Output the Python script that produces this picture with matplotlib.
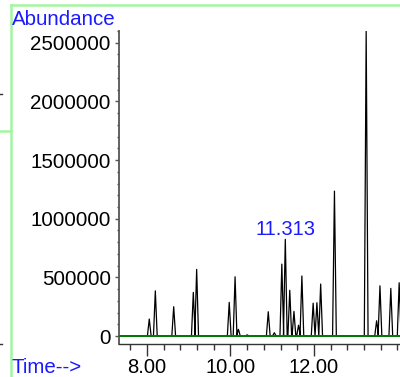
import matplotlib
matplotlib.use("Agg")
import matplotlib.pyplot as plt
from matplotlib.ticker import MultipleLocator, FixedLocator, FuncFormatter
from matplotlib.lines import Line2D

plt.rcParams["font.family"] = ["Liberation Sans", "DejaVu Sans"]

# peak retention times (min) and heights (abundance)
peak_times = [8.055, 8.20, 8.64, 9.11, 9.19, 9.97, 10.11, 10.19, 10.40,
              10.905, 11.05, 11.23, 11.313, 11.42, 11.52, 11.63, 11.71,
              11.98, 12.07, 12.16, 12.49, 13.25, 13.50, 13.58, 13.84, 14.04]
peak_heights = [145000, 385000, 250000, 372000, 568000, 287000, 505000, 57000, 10000,
                207000, 28000, 613000, 824000, 390000, 210000, 92000, 512000,
                280000, 284000, 443000, 1235000, 2598000, 130000, 428000, 406000, 454000]
label_peak = 11.313
x_labels = [8, 10, 12]

half_width = 0.045
trace_t = [7.33]
trace_y = [0]
for t, h in zip(peak_times, peak_heights):
    trace_t += [t - half_width, t, t + half_width]
    trace_y += [0, h, 0]
trace_t.append(14.2)
trace_y.append(0)

fig = plt.figure(figsize=(4.0, 3.77), dpi=100)
ax = fig.add_axes([119 / 400, 1 - 344 / 377, 1 - 119 / 400, (344 - 31) / 377])

ax.plot(trace_t, trace_y, color="black", lw=0.9, zorder=2)
ax.axhline(0, color="#007a00", lw=1.4, zorder=3)

ax.set_xlim(7.33, 14.06)
ax.set_ylim(-68000, 2600000)

# label over the chosen peak
h_lab = peak_heights[peak_times.index(label_peak)]
ax.annotate(f"{label_peak:.3f}", (label_peak, h_lab), xytext=(0, 4),
            textcoords="offset pixels", ha="center", va="baseline",
            color="#1a1aff", fontsize=14.5)

for s in ["top", "right"]:
    ax.spines[s].set_visible(False)
ax.spines["left"].set_color("#555555")
ax.spines["left"].set_linewidth(1.3)
ax.spines["bottom"].set_color("#333333")
ax.spines["bottom"].set_linewidth(1.0)

ax.xaxis.set_major_locator(FixedLocator(x_labels))
ax.xaxis.set_minor_locator(MultipleLocator(0.4))
ax.xaxis.set_major_formatter(FuncFormatter(lambda v, p: f"{v:.2f}"))
ax.yaxis.set_major_locator(MultipleLocator(500000))
ax.yaxis.set_minor_locator(MultipleLocator(100000))
ax.yaxis.set_major_formatter(FuncFormatter(lambda v, p: f"{int(round(v))}"))

ax.tick_params(axis="x", which="major", length=8.6, width=1, color="#333333",
               labelsize=14.5, pad=1.5)
ax.tick_params(axis="x", which="minor", length=4.3, width=1, color="#333333")
ax.tick_params(axis="y", which="major", length=3, width=1, color="#555555",
               labelsize=14.8, pad=3)
ax.tick_params(axis="y", which="minor", length=1.5, width=1, color="#555555")

fig.text(12 / 400, 1 - 25 / 377, "Abundance", color="#1a1aff", fontsize=14.8,
         ha="left", va="baseline")
fig.text(12 / 400, 1 - 373 / 377, "Time-->", color="#1a1aff", fontsize=14.8,
         ha="left", va="baseline")

# pale green window frame and small marks at the left edge of the screenshot
frame = "#a3f5a3"
fig.add_artist(Line2D([11 / 400, 11 / 400], [0, 1 - 5 / 377], transform=fig.transFigure,
                      color=frame, lw=1.8))
fig.add_artist(Line2D([11 / 400, 1], [1 - 5 / 377, 1 - 5 / 377], transform=fig.transFigure,
                      color=frame, lw=1.8))
fig.add_artist(Line2D([0, 11 / 400], [1 - 131 / 377, 1 - 131 / 377], transform=fig.transFigure,
                      color=frame, lw=1.8))
for yy in [94, 344]:
    fig.add_artist(Line2D([0, 2 / 400], [1 - yy / 377, 1 - yy / 377], transform=fig.transFigure,
                          color="#333333", lw=1.0))

fig.savefig("out.png", dpi=100)
